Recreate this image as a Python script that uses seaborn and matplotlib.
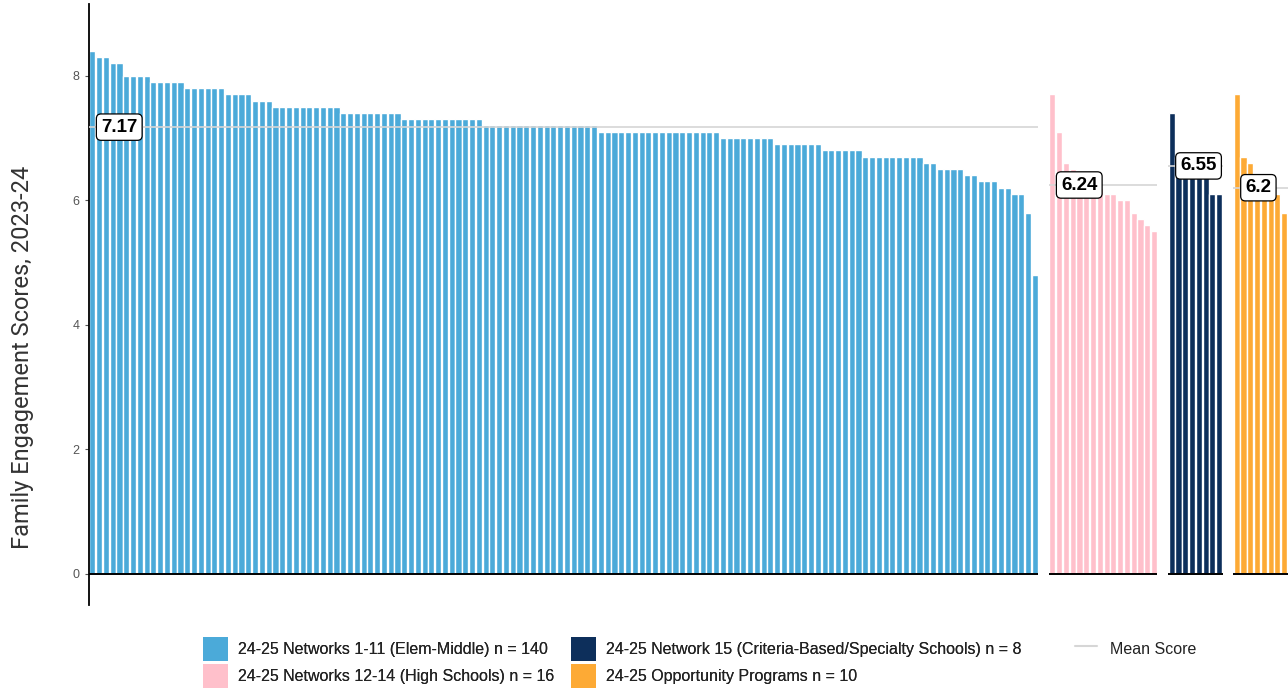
import matplotlib
matplotlib.use("Agg")
import matplotlib.pyplot as plt
import seaborn as sns
import numpy as np
from matplotlib.patches import Patch
from matplotlib.lines import Line2D

# scores, sorted high to low inside each group
elem_middle = ([8.4] + [8.3] * 2 + [8.2] * 2 + [8.0] * 4 + [7.9] * 5 + [7.8] * 6 + [7.7] * 4
               + [7.6] * 3 + [7.5] * 10 + [7.4] * 9 + [7.3] * 12 + [7.2] * 17 + [7.1] * 18
               + [7.0] * 8 + [6.9] * 7 + [6.8] * 6 + [6.7] * 9 + [6.6] * 2 + [6.5] * 4
               + [6.4] * 2 + [6.3] * 3 + [6.2] * 2 + [6.1] * 2 + [5.8, 4.8])
high_schools = [7.7, 7.1, 6.6, 6.5, 6.4, 6.3, 6.3, 6.2, 6.1, 6.1, 6.0, 6.0, 5.8, 5.7, 5.6, 5.5]
specialty = [7.4, 6.7, 6.6, 6.5, 6.5, 6.5, 6.1, 6.1]
opportunity = [7.7, 6.7, 6.6, 6.2, 6.1, 6.1, 6.1, 5.8, 5.6, 5.1]

groups = [elem_middle, high_schools, specialty, opportunity]
colors = ["#4BAAD9", "#FFC0CB", "#0D2F5B", "#FDAA35"]
legend_labels = ["24-25 Networks 1-11 (Elem-Middle) n = 140",
                 "24-25 Networks 12-14 (High Schools) n = 16",
                 "24-25 Network 15 (Criteria-Based/Specialty Schools) n = 8",
                 "24-25 Opportunity Programs n = 10"]

sns.set_theme(style="white")
plt.rcParams["font.family"] = ["Liberation Sans", "DejaVu Sans"]

W, H = 1288, 691
fig = plt.figure(figsize=(W / 100, H / 100), dpi=100)

# facet layout: panel width proportional to number of schools
unit = 6.78
gap = 10.8
left = 89
top_px, bot_px = 4, 605
mean_col = "#D6D6D6"

axes = []
for i, (vals, c) in enumerate(zip(groups, colors)):
    n = len(vals)
    ax = fig.add_axes([left / W, 1 - bot_px / H, n * unit / W, (bot_px - top_px) / H])
    sns.barplot(x=np.arange(n), y=vals, color=c, saturation=1, width=0.9, ax=ax)
    ax.set_xlim(-0.5, n - 0.5)
    ax.set_ylim(-0.5, 9.15)
    m = np.mean(vals)
    ax.axhline(m, color=mean_col, lw=1.2, zorder=5)
    ax.axhline(0, color="black", lw=1.4, zorder=6)
    ax.annotate(f"{round(m, 2):g}", xy=(0.5, m), xytext=(3.8, 0), textcoords="offset points",
                ha="left", va="center", fontsize=13.5, fontweight="bold", color="black", zorder=7,
                bbox=dict(boxstyle="round,pad=0.25,rounding_size=0.25", fc="white", ec="black", lw=0.9))
    ax.set_xticks([])
    ax.set_xlabel("")
    ax.set_ylabel("")
    for s in ["top", "right", "bottom", "left"]:
        ax.spines[s].set_visible(False)
    if i == 0:
        ax.spines["left"].set_visible(True)
        ax.spines["left"].set_color("black")
        ax.spines["left"].set_linewidth(1.3)
        ax.set_yticks([0, 2, 4, 6, 8])
        ax.tick_params(axis="y", left=True, length=3, width=0.8, color="#555555",
                       labelsize=9, labelcolor="#555555", pad=4)
    else:
        ax.set_yticks([])
    ax.patch.set_alpha(0)
    left += n * unit + gap
    axes.append(ax)

fig.text(23 / W, 1 - 357 / H, "Family Engagement Scores, 2023-24", rotation=90,
         ha="center", va="center", fontsize=17, color="#333333", family=["Roboto", "DejaVu Sans"])

handles = [Patch(facecolor=c, edgecolor="none") for c in colors]
leg1 = fig.legend(handles=handles, labels=legend_labels, ncol=2, loc="upper left",
                  bbox_to_anchor=(203 / W, 1 - 637 / H), frameon=False, fontsize=11.5,
                  handlelength=1.56, handleheight=1.95, labelspacing=0.19, handletextpad=0.62,
                  columnspacing=1.05, borderpad=0, borderaxespad=0, labelcolor="#222222")
fig.add_artist(leg1)
fig.legend(handles=[Line2D([], [], color=mean_col, lw=1.5)], labels=["Mean Score"], loc="upper left",
           bbox_to_anchor=(1075 / W, 1 - 637 / H), frameon=False, fontsize=11.5,
           handlelength=1.4, handleheight=1.95, handletextpad=0.8, borderpad=0, borderaxespad=0,
           labelcolor="#222222")

fig.savefig("out.png", dpi=100)
